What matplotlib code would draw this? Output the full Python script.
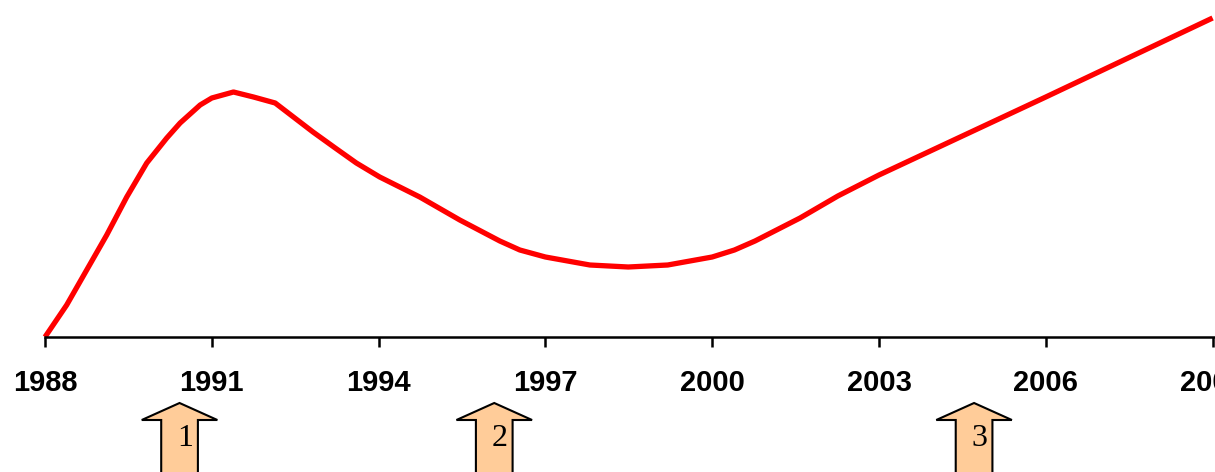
import matplotlib.pyplot as plt
from matplotlib.patches import Polygon
from matplotlib.transforms import blended_transform_factory

# curve (arbitrary units, 0 = axis)
years = [1988.0, 1988.39, 1989.11, 1989.47, 1989.83, 1990.19, 1990.43, 1990.79,
         1991.0, 1991.39, 1991.75, 1992.14, 1992.82, 1993.22, 1993.6, 1994.02,
         1994.74, 1995.46, 1996.18, 1996.54, 1997.0, 1997.8, 1998.49, 1999.2,
         2000.0, 2000.4, 2000.77, 2001.58, 2002.26, 2003.0, 2006.0, 2009.0]
values = [0, 32, 102, 140, 174, 199, 214, 232,
          239, 245, 240, 234, 205, 189, 174, 160,
          140, 117, 96, 87, 80, 72, 70, 72,
          80, 87, 96, 119, 141, 162, 240, 319]

tick_years = [1988, 1991, 1994, 1997, 2000, 2003, 2006, 2009]
arrow_years = [1990.42, 1996.08, 2004.71]
arrow_labels = ['1', '2', '3']

fig = plt.figure(figsize=(12.15, 4.72), dpi=100)
ax = fig.add_axes([45 / 1215, (472 - 337) / 472, 1 - 45 / 1215, 337 / 472])

ax.plot(years, values, color='#ff0000', lw=3.8, solid_capstyle='butt', clip_on=False)
ax.set_xlim(1988, 1988 + 1170 / 55.6)
ax.set_ylim(0, 337)

for s in ['top', 'right', 'left']:
    ax.spines[s].set_visible(False)
ax.spines['bottom'].set_linewidth(1.8)
ax.set_yticks([])
ax.set_xticks(tick_years)
ax.set_xticklabels([str(y) for y in tick_years], fontfamily='Liberation Sans',
                   fontweight='bold', fontsize=21)
ax.tick_params(axis='x', direction='out', length=7, width=1.8, pad=16)

# block arrows under the axis
tr = blended_transform_factory(ax.transData, fig.transFigure)
tip, base, bottom = (472 - 403) / 472, (472 - 420) / 472, -0.01
hw, sw = 0.68, 0.33
for x, lab in zip(arrow_years, arrow_labels):
    pts = [(x, tip), (x + hw, base), (x + sw, base), (x + sw, bottom),
           (x - sw, bottom), (x - sw, base), (x - hw, base)]
    ax.add_patch(Polygon(pts, closed=True, facecolor='#ffcc99', edgecolor='black',
                         lw=1.5, transform=tr, clip_on=False))
    ax.text(x + 0.1, (472 - 438) / 472, lab, transform=tr, ha='center', va='center',
            fontfamily='Liberation Serif', fontsize=23)

fig.savefig('out.png', dpi=100)
